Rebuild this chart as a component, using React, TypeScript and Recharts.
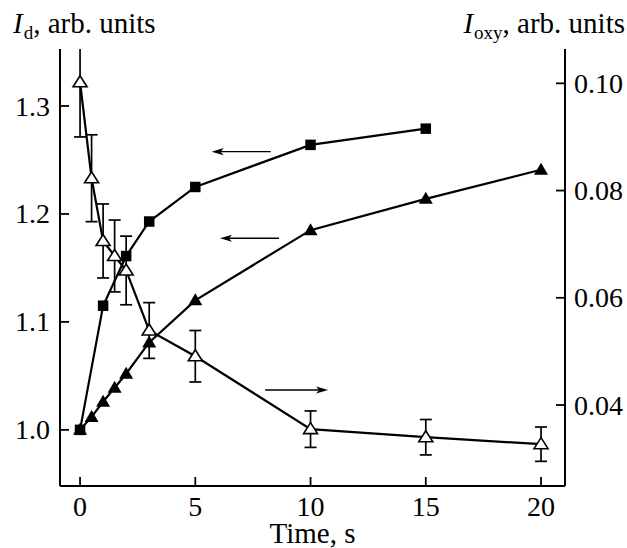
import React from 'react';
import { LineChart, Line, XAxis, YAxis, ErrorBar, ReferenceLine } from 'recharts';

// ---- data ----
const squareTimes = [0, 1, 2, 3, 5, 10, 15];
const squareId = [1.0, 1.115, 1.161, 1.193, 1.225, 1.264, 1.279];

const triTimes = [0, 0.5, 1, 1.5, 2, 3, 5, 10, 15, 20];
const triId = [1.0, 1.012, 1.026, 1.039, 1.052, 1.081, 1.12, 1.185, 1.214, 1.241];

const oxyTimes = [0, 0.5, 1, 1.5, 2, 3, 5, 10, 15, 20];
const oxyValues = [0.1002, 0.0823, 0.0706, 0.0678, 0.0651, 0.0539, 0.0491, 0.0355, 0.034, 0.0327];
const oxyErrors = [0.0102, 0.0081, 0.0069, 0.0067, 0.0064, 0.0052, 0.0048, 0.0034, 0.0033, 0.0032];

const xTicks = [0, 5, 10, 15, 20];
const leftTicks = [1.0, 1.1, 1.2, 1.3];
const rightTicks = [0.04, 0.06, 0.08, 0.1];
const leftTickLabels = ['1.0', '1.1', '1.2', '1.3'];
const rightTickLabels = ['0.04', '0.06', '0.08', '0.10'];
const xTickLabels = ['0', '5', '10', '15', '20'];

const xDomain = [-0.87, 21.04];
const leftDomain = [0.948, 1.3528];
const rightDomain = [0.0249, 0.1064];

// annotation arrows (data coordinates): tail -> head
const arrowTailX = [8.27, 8.63, 8.03];
const arrowHeadX = [5.71, 6.07, 10.76];
const arrowY = [1.2577, 1.1775, 0.0428];
const arrowAxis = ['left', 'left', 'right'];

const squareData = squareTimes.map((t, i) => ({ t, v: squareId[i] }));
const triData = triTimes.map((t, i) => ({ t, v: triId[i] }));
const oxyData = oxyTimes.map((t, i) => ({ t, v: oxyValues[i], err: oxyErrors[i] }));

// layout
const W = 627;
const H = 548;
const M_TOP = 49;
const LEFT_W = 60;
const RIGHT_W = 62;
const BOTTOM_H = 62;

const FONT = '"Liberation Serif", "Times New Roman", Times, serif';
const TICK_FS = 28;
const LABEL_FS = 29;
const TICK_LEN = 9;
const textStyle = { fontFamily: FONT };

const SquareDot = (props: any) => {
  const { cx, cy, index } = props;
  if (cx == null || cy == null) return <g key={`s-${index}`} />;
  return <rect key={`s-${index}`} x={cx - 5.25} y={cy - 5.25} width={10.5} height={10.5} fill="#000" />;
};

const FilledTriDot = (props: any) => {
  const { cx, cy, index } = props;
  if (cx == null || cy == null) return <g key={`ft-${index}`} />;
  return (
    <polygon
      key={`ft-${index}`}
      points={`${cx},${cy - 7} ${cx - 7},${cy + 5} ${cx + 7},${cy + 5}`}
      fill="#000"
    />
  );
};

const OpenTriDot = (props: any) => {
  const { cx, cy, index } = props;
  if (cx == null || cy == null) return <g key={`ot-${index}`} />;
  return (
    <polygon
      key={`ot-${index}`}
      points={`${cx},${cy - 6.5} ${cx - 7},${cy + 4.5} ${cx + 7},${cy + 4.5}`}
      fill="#fff"
      stroke="#000"
      strokeWidth={1.6}
      strokeLinejoin="miter"
    />
  );
};

const LeftTick = (props: any) => {
  const { x, y, payload } = props;
  const i = leftTicks.indexOf(payload.value);
  return (
    <g>
      <line x1={x} y1={y} x2={x + TICK_LEN} y2={y} stroke="#000" strokeWidth={1.8} />
      <text x={x - 10} y={y + 9.5} textAnchor="end" style={textStyle} fontSize={TICK_FS} fill="#000">
        {i >= 0 ? leftTickLabels[i] : payload.value}
      </text>
    </g>
  );
};

const RightTick = (props: any) => {
  const { x, y, payload } = props;
  const i = rightTicks.indexOf(payload.value);
  return (
    <g>
      <line x1={x} y1={y} x2={x - TICK_LEN} y2={y} stroke="#000" strokeWidth={1.8} />
      <text x={x + 9} y={y + 9.5} textAnchor="start" style={textStyle} fontSize={TICK_FS} fill="#000">
        {i >= 0 ? rightTickLabels[i] : payload.value}
      </text>
    </g>
  );
};

const BottomTick = (props: any) => {
  const { x, y, payload } = props;
  const i = xTicks.indexOf(payload.value);
  return (
    <g>
      <line x1={x} y1={y} x2={x} y2={y - TICK_LEN} stroke="#000" strokeWidth={1.8} />
      <text x={x} y={y + 30} textAnchor="middle" style={textStyle} fontSize={TICK_FS} fill="#000">
        {i >= 0 ? xTickLabels[i] : payload.value}
      </text>
    </g>
  );
};

const LeftLabel = (props: any) => {
  const vb = props.viewBox || { x: 0, y: M_TOP };
  return (
    <text x={vb.x + 13} y={vb.y - 16} style={textStyle} fontSize={LABEL_FS} fill="#000">
      <tspan fontStyle="italic">I</tspan>
      <tspan fontSize={19} dx={1} dy={6}>d</tspan>
      <tspan dy={-6}>, arb. units</tspan>
    </text>
  );
};

const RightLabel = (props: any) => {
  const vb = props.viewBox || { x: W - RIGHT_W, y: M_TOP, width: RIGHT_W };
  return (
    <text x={vb.x + vb.width - 2} y={vb.y - 16} textAnchor="end" style={textStyle} fontSize={LABEL_FS} fill="#000">
      <tspan fontStyle="italic">I</tspan>
      <tspan fontSize={19} dx={1} dy={6}>oxy</tspan>
      <tspan dy={-6}>, arb. units</tspan>
    </text>
  );
};

const BottomLabel = (props: any) => {
  const vb = props.viewBox || { x: LEFT_W, y: H - BOTTOM_H, width: W - LEFT_W - RIGHT_W };
  return (
    <text x={vb.x + vb.width / 2} y={vb.y + 57} textAnchor="middle" style={textStyle} fontSize={LABEL_FS} fill="#000">
      Time, s
    </text>
  );
};

const ArrowShape = (props: any) => {
  const { x1, y1, x2, y2 } = props;
  if ([x1, y1, x2, y2].some((v) => v == null || isNaN(v))) return <g />;
  const dx = x2 - x1;
  const dy = y2 - y1;
  const len = Math.sqrt(dx * dx + dy * dy) || 1;
  const ux = dx / len;
  const uy = dy / len;
  const px = -uy;
  const py = ux;
  const headLen = 12;
  const headHalf = 3.6;
  const notch = 9;
  const bx = x2 - ux * headLen;
  const by = y2 - uy * headLen;
  const nx = x2 - ux * notch;
  const ny = y2 - uy * notch;
  return (
    <g>
      <line x1={x1} y1={y1} x2={nx} y2={ny} stroke="#000" strokeWidth={1.4} />
      <path
        d={`M${x2},${y2} L${bx + px * headHalf},${by + py * headHalf} L${nx},${ny} L${bx - px * headHalf},${by - py * headHalf} Z`}
        fill="#000"
      />
    </g>
  );
};

export default function App() {
  return (
    <div style={{ position: 'absolute', left: 0, top: 0, width: W, height: H, background: '#fff', fontFamily: FONT }}>
      <LineChart width={W} height={H} margin={{ top: M_TOP, right: 0, bottom: 0, left: 0 }} style={{ fontFamily: FONT }}>
        <defs>
          <clipPath id="plot-area-clip">
            <rect x={LEFT_W} y={M_TOP} width={W - LEFT_W - RIGHT_W} height={H - M_TOP - BOTTOM_H} />
          </clipPath>
        </defs>
        <XAxis
          xAxisId="x"
          type="number"
          dataKey="t"
          domain={xDomain}
          allowDataOverflow
          ticks={xTicks}
          interval={0}
          height={BOTTOM_H}
          axisLine={{ stroke: '#000', strokeWidth: 2 }}
          tickLine={false}
          tickSize={0}
          tickMargin={0}
          tick={<BottomTick />}
          label={<BottomLabel />}
        />
        <YAxis
          yAxisId="left"
          orientation="left"
          type="number"
          domain={leftDomain}
          allowDataOverflow
          ticks={leftTicks}
          interval={0}
          width={LEFT_W}
          axisLine={{ stroke: '#000', strokeWidth: 2 }}
          tickLine={false}
          tickSize={0}
          tickMargin={0}
          tick={<LeftTick />}
          label={<LeftLabel />}
        />
        <YAxis
          yAxisId="right"
          orientation="right"
          type="number"
          domain={rightDomain}
          allowDataOverflow
          ticks={rightTicks}
          interval={0}
          width={RIGHT_W}
          axisLine={{ stroke: '#000', strokeWidth: 2 }}
          tickLine={false}
          tickSize={0}
          tickMargin={0}
          tick={<RightTick />}
          label={<RightLabel />}
        />

        {arrowTailX.map((tx, i) => (
          <ReferenceLine
            key={`arrow-${i}`}
            xAxisId="x"
            yAxisId={arrowAxis[i]}
            segment={[
              { x: tx, y: arrowY[i] },
              { x: arrowHeadX[i], y: arrowY[i] },
            ]}
            shape={<ArrowShape />}
            ifOverflow="visible"
          />
        ))}

        <Line
          data={squareData}
          xAxisId="x"
          yAxisId="left"
          dataKey="v"
          type="linear"
          stroke="#000"
          strokeWidth={2.2}
          dot={SquareDot}
          activeDot={false}
          isAnimationActive={false}
        />
        <Line
          data={triData}
          xAxisId="x"
          yAxisId="left"
          dataKey="v"
          type="linear"
          stroke="#000"
          strokeWidth={2.2}
          dot={FilledTriDot}
          activeDot={false}
          isAnimationActive={false}
        />
        <Line
          data={oxyData}
          xAxisId="x"
          yAxisId="right"
          dataKey="v"
          type="linear"
          stroke="#000"
          strokeWidth={2.2}
          dot={OpenTriDot}
          activeDot={false}
          isAnimationActive={false}
        >
          <ErrorBar
            dataKey="err"
            direction="y"
            width={6}
            stroke="#000"
            strokeWidth={1.7}
            clipPath="url(#plot-area-clip)"
            isAnimationActive={false}
          />
        </Line>
      </LineChart>
    </div>
  );
}
